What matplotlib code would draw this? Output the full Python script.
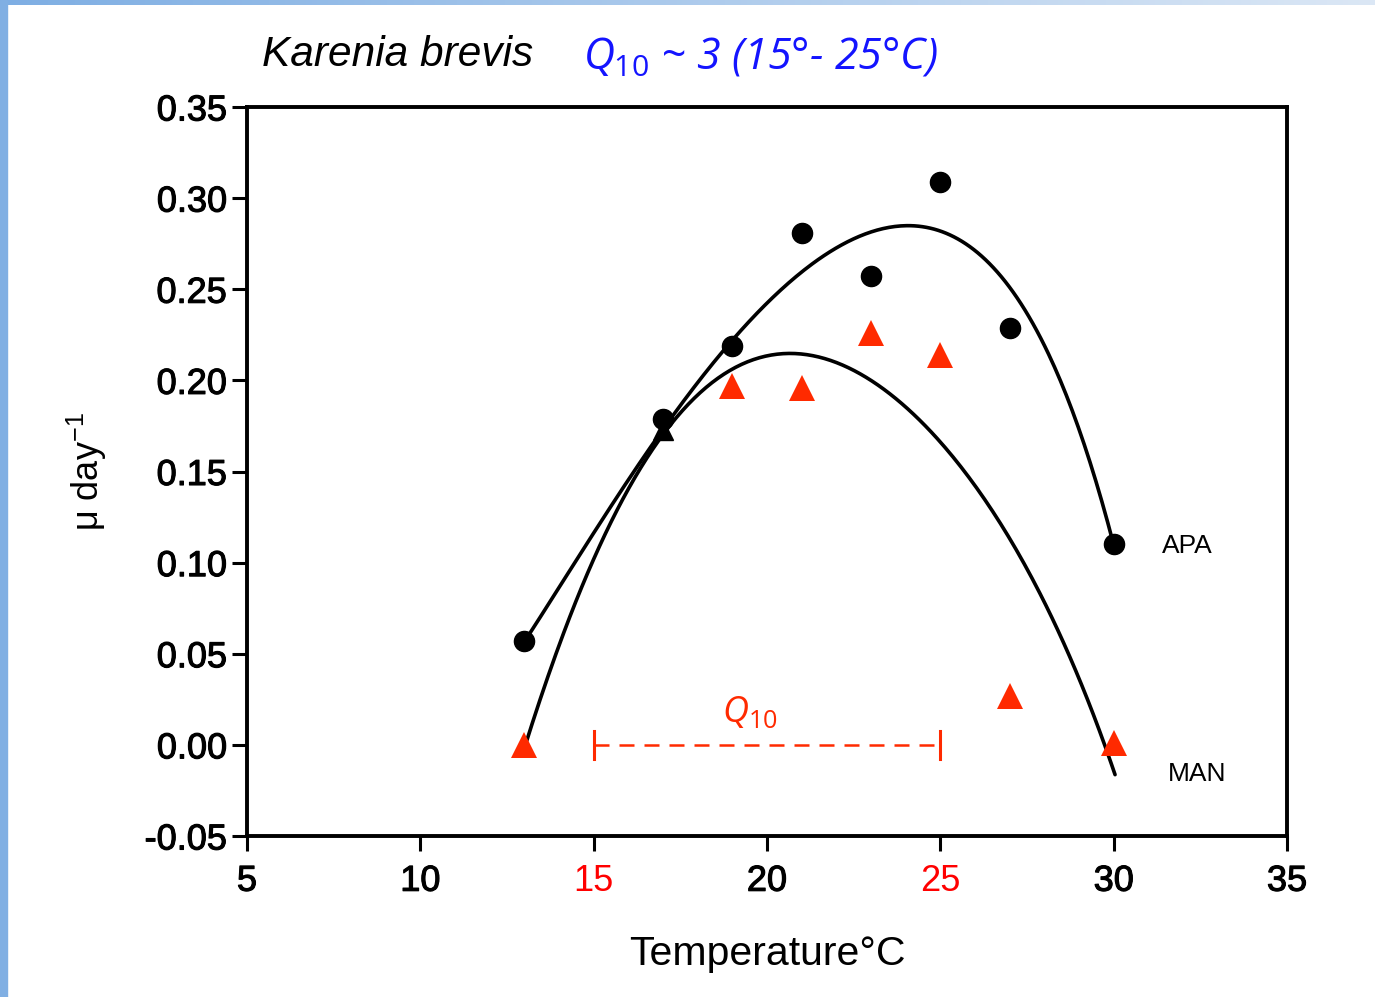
import matplotlib
matplotlib.use('Agg')
import matplotlib.pyplot as plt
import matplotlib.patheffects as pe
import numpy as np
from matplotlib.patches import Rectangle

# growth rate measurements (mu, per day)
temp = [13, 17, 19, 21, 23, 25, 27, 30]
apa_mu = [0.057, 0.179, 0.219, 0.281, 0.257, 0.309, 0.229, 0.110]
man_temp = [13, 19, 21, 23, 25, 27, 30]
man_mu = [0.000, 0.197, 0.196, 0.226, 0.214, 0.027, 0.001]
man_hidden_temp = [17]
man_hidden_mu = [0.173]

# fitted curves, sampled along the drawn lines
apa_fit_t = [13.0, 13.21, 14.30, 15.44, 16.58, 17.72, 18.86, 20.00, 21.14, 22.28,
             23.42, 24.22, 25.13, 26.27, 27.41, 28.55, 29.24, 29.87, 30.0]
apa_fit_mu = [0.057, 0.061, 0.097, 0.131, 0.160, 0.190, 0.219, 0.242, 0.263, 0.277,
              0.284, 0.285, 0.280, 0.265, 0.238, 0.198, 0.163, 0.116, 0.110]
man_fit_t = [13.0, 13.16, 13.73, 14.87, 16.01, 17.15, 18.29, 19.43, 20.57, 21.71,
             22.85, 23.99, 25.13, 26.27, 27.41, 28.55, 29.47, 30.04]
man_fit_mu = [-0.002, 0.005, 0.043, 0.0995, 0.139, 0.171, 0.196, 0.211, 0.216, 0.213,
              0.202, 0.186, 0.163, 0.133, 0.097, 0.058, 0.020, -0.021]

q10_range = [15, 25]
xticks = [5, 10, 15, 20, 25, 30, 35]
yticks = [-0.05, 0.00, 0.05, 0.10, 0.15, 0.20, 0.25, 0.30, 0.35]

RED = '#ff2a00'
BLUE = '#1414ff'
plt.rcParams['font.family'] = ['Liberation Sans', 'DejaVu Sans']
plt.rcParams['mathtext.fontset'] = 'custom'
plt.rcParams['mathtext.it'] = 'Open Sans:italic'
plt.rcParams['mathtext.rm'] = 'Open Sans'


def smooth(t, mu, deg):
    # polynomial regression through the curve samples
    coef = np.polyfit(t, mu, deg)
    tt = np.linspace(t[0], t[-1], 300)
    return tt, np.polyval(coef, tt)


fig = plt.figure(figsize=(13.75, 9.97), dpi=100)

# slide frame: blue strip on the left, gradient bar on top
fig.patches.append(Rectangle((0, 0), 7 / 1375, 1, transform=fig.transFigure,
                             color='#80afe3', zorder=0))
bar = fig.add_axes([0, 1 - 5 / 997, 1, 5 / 997])
grad = np.linspace(0, 1, 256).reshape(1, -1)
cmap = matplotlib.colors.LinearSegmentedColormap.from_list('bar', ['#7eaee3', '#dbe7f5'])
bar.imshow(grad, aspect='auto', cmap=cmap)
bar.axis('off')

ax = fig.add_axes([247 / 1375, 1 - 836 / 997, 1040 / 1375, 729 / 997])
ax.set_xlim(5, 35)
ax.set_ylim(-0.05, 0.35)

for t, mu, deg in [(apa_fit_t, apa_fit_mu, 5), (man_fit_t, man_fit_mu, 5)]:
    tt, yy = smooth(t, mu, deg)
    ax.plot(tt, yy, color='black', lw=2.6, solid_capstyle='round', zorder=2)

ax.plot(man_hidden_temp, man_hidden_mu, '^', color='black', ms=15, zorder=3)
ax.plot(temp, apa_mu, 'o', color='black', ms=14.5, zorder=4)
ax.plot(man_temp, man_mu, '^', color=RED, ms=19, mew=0, zorder=5)

# Q10 bracket
ax.plot(q10_range, [0, 0], color=RED, lw=1.8, dashes=(6, 4), zorder=3)
for t in q10_range:
    ax.plot([t, t], [-0.0075, 0.0075], color=RED, lw=2.2, zorder=3)
ax.text(19.5, 0.008, r'$Q_{10}$', color=RED, fontsize=26,
        ha='center', va='bottom')

ax.text(31.4, 0.109, 'APA', fontsize=19, ha='left', va='center')
ax.text(31.55, -0.016, 'MAN', fontsize=19, ha='left', va='center')

for s in ax.spines.values():
    s.set_linewidth(2.8)
ax.set_xticks(xticks)
ax.set_yticks(yticks)
ax.set_yticklabels([f'{v:.2f}' for v in yticks])
ax.tick_params(axis='both', direction='out', width=2.2, length=11, labelsize=26)
ax.tick_params(axis='x', pad=9)
ink = [pe.withStroke(linewidth=0.8, foreground='black')]
for lab in ax.get_yticklabels():
    lab.set_path_effects(ink)
for lab, t in zip(ax.get_xticklabels(), xticks):
    if t in q10_range:
        lab.set_color('red')
    else:
        lab.set_path_effects(ink)

ax.set_xlabel('Temperature°C', fontsize=29.5, labelpad=26)
ax.set_ylabel(r'μ day$^{\mathregular{-1}}$', fontsize=26, labelpad=26)

fig.text(262 / 1375, 1 - 55 / 997, 'Karenia brevis', fontsize=30.5, style='italic',
         ha='left', va='center')
fig.text(583 / 1375, 1 - 57 / 997, r'$Q_{10}$ ~ 3 (15°- 25°C)', fontsize=31,
         style='italic', family=['Open Sans', 'DejaVu Sans'], color=BLUE,
         ha='left', va='center')

fig.savefig('out.png', dpi=100)
